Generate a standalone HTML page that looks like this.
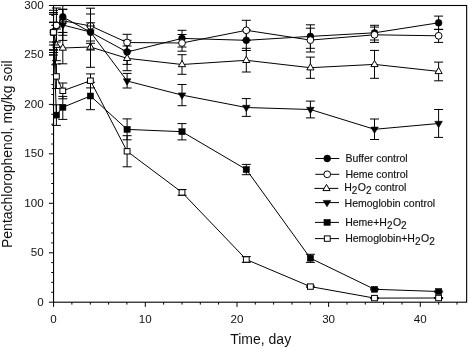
<!DOCTYPE html>
<html><head><meta charset="utf-8"><title>chart</title>
<style>
html,body{margin:0;padding:0;background:#fff;}
body{width:468px;height:348px;position:relative;overflow:hidden;font-family:"Liberation Sans",sans-serif;color:#111;}
svg{position:absolute;left:0;top:0;}
.t{position:absolute;white-space:nowrap;line-height:1;}
.lg{-webkit-text-stroke:0.15px #111;}
#txt{position:absolute;left:0;top:0;width:468px;height:348px;filter:grayscale(1);}
.yt{font-size:11.6px;right:424.3px;text-align:right;}
.xt{font-size:11.6px;width:40px;text-align:center;top:312.7px;}
.lg{font-size:10.5px;left:344.6px;}
.lg sub{font-size:10px;letter-spacing:0.45px;vertical-align:baseline;position:relative;top:3.2px;line-height:0;}
.ax{font-size:14.0px;}
</style></head><body>
<svg width="468" height="348" viewBox="0 0 468 348">
<rect x="53.55" y="5.5" width="413.1" height="296.7" fill="none" stroke="#000" stroke-width="1.1"/>
<path d="M48.9 302.2H53.55M51.3 292.3H53.55M51.3 282.4H53.55M51.3 272.5H53.55M51.3 262.6H53.55M48.9 252.8H53.55M51.3 242.9H53.55M51.3 233.0H53.55M51.3 223.1H53.55M51.3 213.2H53.55M48.9 203.3H53.55M51.3 193.4H53.55M51.3 183.5H53.55M51.3 173.6H53.55M51.3 163.7H53.55M48.9 153.8H53.55M51.3 144.0H53.55M51.3 134.1H53.55M51.3 124.2H53.55M51.3 114.3H53.55M48.9 104.4H53.55M51.3 94.5H53.55M51.3 84.6H53.55M51.3 74.7H53.55M51.3 64.8H53.55M48.9 54.9H53.55M51.3 45.1H53.55M51.3 35.2H53.55M51.3 25.3H53.55M51.3 15.4H53.55M48.9 5.5H53.55M53.6 302.2V306.9M71.9 302.2V304.6M90.3 302.2V304.6M108.6 302.2V304.6M126.9 302.2V304.6M145.3 302.2V306.9M163.6 302.2V304.6M182.0 302.2V304.6M200.3 302.2V304.6M218.6 302.2V304.6M237.0 302.2V306.9M255.3 302.2V304.6M273.6 302.2V304.6M292.0 302.2V304.6M310.3 302.2V304.6M328.6 302.2V306.9M347.0 302.2V304.6M365.3 302.2V304.6M383.6 302.2V304.6M402.0 302.2V304.6M420.3 302.2V306.9M438.7 302.2V304.6M457.0 302.2V304.6" fill="none" stroke="#000" stroke-width="1"/>
<circle cx="62.8" cy="20.8" r="3.4" fill="#fff" stroke="#000" stroke-width="1"/>
<polyline points="53.5,32.2 62.8,16.9 90.5,32.2 127.1,52.0 182.0,38.4 246.3,40.3 310.4,36.4 374.5,32.8 438.6,22.8" fill="none" stroke="#000" stroke-width="1.0"/>
<path d="M53.5 22.3V42.0M49.0 22.3H58.0M49.0 42.0H58.0M62.8 5.5V35.3M58.3 35.3H67.3M90.5 22.8V41.0M86.0 22.8H95.0M86.0 41.0H95.0M127.1 40.3V64.4M122.6 40.3H131.6M122.6 64.4H131.6M182.0 30.3V47.0M177.5 30.3H186.5M177.5 47.0H186.5M246.3 29.9V50.5M241.8 29.9H250.8M241.8 50.5H250.8M310.4 24.8V48.3M305.9 24.8H314.9M305.9 48.3H314.9M374.5 25.3V40.0M370.0 25.3H379.0M370.0 40.0H379.0M438.6 16.1V29.4M434.1 16.1H443.1M434.1 29.4H443.1" fill="none" stroke="#000" stroke-width="1.0"/>
<circle cx="53.5" cy="32.2" r="3.4" fill="#000" stroke="#000" stroke-width="0.6"/>
<circle cx="62.8" cy="16.9" r="3.4" fill="#000" stroke="#000" stroke-width="0.6"/>
<circle cx="90.5" cy="32.2" r="3.4" fill="#000" stroke="#000" stroke-width="0.6"/>
<circle cx="127.1" cy="52.0" r="3.4" fill="#000" stroke="#000" stroke-width="0.6"/>
<circle cx="182.0" cy="38.4" r="3.4" fill="#000" stroke="#000" stroke-width="0.6"/>
<circle cx="246.3" cy="40.3" r="3.4" fill="#000" stroke="#000" stroke-width="0.6"/>
<circle cx="310.4" cy="36.4" r="3.4" fill="#000" stroke="#000" stroke-width="0.6"/>
<circle cx="374.5" cy="32.8" r="3.4" fill="#000" stroke="#000" stroke-width="0.6"/>
<circle cx="438.6" cy="22.8" r="3.4" fill="#000" stroke="#000" stroke-width="0.6"/>
<polyline points="53.5,32.2 56.4,25.3 62.8,20.8 90.5,25.9 127.1,42.5 182.0,43.0 246.3,30.3 310.4,40.1 374.5,34.8 438.6,35.8" fill="none" stroke="#000" stroke-width="1.0"/>
<path d="M53.5 10.3V52.5M49.0 10.3H58.0M49.0 52.5H58.0M56.4 8.0V42.0M51.9 8.0H60.9M51.9 42.0H60.9M62.8 9.3V32.4M58.3 9.3H67.3M58.3 32.4H67.3M90.5 8.2V43.3M86.0 8.2H95.0M86.0 43.3H95.0M127.1 34.3V50.7M122.6 34.3H131.6M122.6 50.7H131.6M182.0 34.5V51.2M177.5 34.5H186.5M177.5 51.2H186.5M246.3 20.3V40.3M241.8 20.3H250.8M241.8 40.3H250.8M310.4 28.2V52.0M305.9 28.2H314.9M305.9 52.0H314.9M374.5 27.1V42.4M370.0 27.1H379.0M370.0 42.4H379.0M438.6 29.4V42.4M434.1 29.4H443.1M434.1 42.4H443.1" fill="none" stroke="#000" stroke-width="1.0"/>
<circle cx="53.5" cy="32.2" r="3.4" fill="#fff" stroke="#000" stroke-width="1"/>
<circle cx="56.4" cy="25.3" r="3.4" fill="#fff" stroke="#000" stroke-width="1"/>
<circle cx="90.5" cy="25.9" r="3.4" fill="#fff" stroke="#000" stroke-width="1"/>
<circle cx="127.1" cy="42.5" r="3.4" fill="#fff" stroke="#000" stroke-width="1"/>
<circle cx="182.0" cy="43.0" r="3.4" fill="#fff" stroke="#000" stroke-width="1"/>
<circle cx="246.3" cy="30.3" r="3.4" fill="#fff" stroke="#000" stroke-width="1"/>
<circle cx="310.4" cy="40.1" r="3.4" fill="#fff" stroke="#000" stroke-width="1"/>
<circle cx="374.5" cy="34.8" r="3.4" fill="#fff" stroke="#000" stroke-width="1"/>
<circle cx="438.6" cy="35.8" r="3.4" fill="#fff" stroke="#000" stroke-width="1"/>
<polyline points="53.5,32.2 56.4,45.2 62.8,48.0 90.5,47.0 127.1,58.3 182.0,64.5 246.3,60.3 310.4,67.7 374.5,64.4 438.6,71.4" fill="none" stroke="#000" stroke-width="1.0"/>
<path d="M53.5 12.7V50.3M49.0 12.7H58.0M49.0 50.3H58.0M56.4 29.0V60.7M51.9 29.0H60.9M51.9 60.7H60.9M62.8 32.5V63.8M58.3 32.5H67.3M58.3 63.8H67.3M90.5 26.0V67.3M86.0 26.0H95.0M86.0 67.3H95.0M127.1 46.0V70.7M122.6 46.0H131.6M122.6 70.7H131.6M182.0 54.7V74.3M177.5 54.7H186.5M177.5 74.3H186.5M246.3 48.3V72.0M241.8 48.3H250.8M241.8 72.0H250.8M310.4 57.1V78.3M305.9 57.1H314.9M305.9 78.3H314.9M374.5 50.4V78.3M370.0 50.4H379.0M370.0 78.3H379.0M438.6 62.1V80.8M434.1 62.1H443.1M434.1 80.8H443.1" fill="none" stroke="#000" stroke-width="1.0"/>
<path d="M53.5 28.2 L57.1 34.4 L49.9 34.4 Z" fill="#fff" stroke="#000" stroke-width="1"/>
<path d="M56.4 41.2 L60.0 47.4 L52.8 47.4 Z" fill="#fff" stroke="#000" stroke-width="1"/>
<path d="M62.8 44.0 L66.4 50.2 L59.2 50.2 Z" fill="#fff" stroke="#000" stroke-width="1"/>
<path d="M90.5 43.0 L94.0 49.2 L86.9 49.2 Z" fill="#fff" stroke="#000" stroke-width="1"/>
<path d="M127.1 54.3 L130.7 60.5 L123.5 60.5 Z" fill="#fff" stroke="#000" stroke-width="1"/>
<path d="M182.0 60.5 L185.6 66.7 L178.4 66.7 Z" fill="#fff" stroke="#000" stroke-width="1"/>
<path d="M246.3 56.3 L249.9 62.5 L242.7 62.5 Z" fill="#fff" stroke="#000" stroke-width="1"/>
<path d="M310.4 63.7 L314.0 69.9 L306.8 69.9 Z" fill="#fff" stroke="#000" stroke-width="1"/>
<path d="M374.5 60.4 L378.1 66.6 L370.9 66.6 Z" fill="#fff" stroke="#000" stroke-width="1"/>
<path d="M438.6 67.4 L442.2 73.6 L435.0 73.6 Z" fill="#fff" stroke="#000" stroke-width="1"/>
<polyline points="53.5,32.2 62.8,25.0 90.5,32.0 127.1,81.0 182.0,95.1 246.3,107.5 310.4,109.5 374.5,129.3 438.6,123.5" fill="none" stroke="#000" stroke-width="1.0"/>
<path d="M53.5 12.7V49.7M49.0 12.7H58.0M49.0 49.7H58.0M62.8 9.3V40.4M58.3 9.3H67.3M58.3 40.4H67.3M90.5 14.0V50.0M86.0 14.0H95.0M86.0 50.0H95.0M127.1 73.4V88.0M122.6 73.4H131.6M122.6 88.0H131.6M182.0 84.5V105.7M177.5 84.5H186.5M177.5 105.7H186.5M246.3 98.6V116.4M241.8 98.6H250.8M241.8 116.4H250.8M310.4 101.1V117.9M305.9 101.1H314.9M305.9 117.9H314.9M374.5 119.0V139.5M370.0 119.0H379.0M370.0 139.5H379.0M438.6 109.5V137.4M434.1 109.5H443.1M434.1 137.4H443.1" fill="none" stroke="#000" stroke-width="1.0"/>
<path d="M53.5 36.4 L57.3 30.0 L49.8 30.0 Z" fill="#000" stroke="#000" stroke-width="0.6"/>
<path d="M62.8 29.2 L66.6 22.8 L59.0 22.8 Z" fill="#000" stroke="#000" stroke-width="0.6"/>
<path d="M90.5 36.2 L94.2 29.8 L86.7 29.8 Z" fill="#000" stroke="#000" stroke-width="0.6"/>
<path d="M127.1 85.2 L130.9 78.8 L123.3 78.8 Z" fill="#000" stroke="#000" stroke-width="0.6"/>
<path d="M182.0 99.3 L185.8 92.9 L178.2 92.9 Z" fill="#000" stroke="#000" stroke-width="0.6"/>
<path d="M246.3 111.7 L250.1 105.3 L242.5 105.3 Z" fill="#000" stroke="#000" stroke-width="0.6"/>
<path d="M310.4 113.7 L314.2 107.3 L306.6 107.3 Z" fill="#000" stroke="#000" stroke-width="0.6"/>
<path d="M374.5 133.5 L378.3 127.1 L370.7 127.1 Z" fill="#000" stroke="#000" stroke-width="0.6"/>
<path d="M438.6 127.7 L442.4 121.3 L434.8 121.3 Z" fill="#000" stroke="#000" stroke-width="0.6"/>
<polyline points="53.5,32.2 56.4,115.1 62.8,107.3 90.5,96.0 127.1,129.4 182.0,131.7 246.3,169.5 310.4,258.2 374.5,289.3 438.6,291.5" fill="none" stroke="#000" stroke-width="1.0"/>
<path d="M53.5 14.4V55.0M49.0 14.4H58.0M49.0 55.0H58.0M56.4 104.8V125.4M51.9 104.8H60.9M51.9 125.4H60.9M62.8 96.4V119.4M58.3 96.4H67.3M58.3 119.4H67.3M90.5 82.3V109.7M86.0 82.3H95.0M86.0 109.7H95.0M127.1 118.9V139.8M122.6 118.9H131.6M122.6 139.8H131.6M182.0 123.6V139.9M177.5 123.6H186.5M177.5 139.9H186.5M246.3 164.4V174.7M241.8 164.4H250.8M241.8 174.7H250.8M310.4 254.3V262.4M305.9 254.3H314.9M305.9 262.4H314.9M374.5 288.8V289.9M370.0 288.8H379.0M370.0 289.9H379.0M438.6 291.0V292.1M434.1 291.0H443.1M434.1 292.1H443.1" fill="none" stroke="#000" stroke-width="1.0"/>
<rect x="50.40" y="29.2" width="6.3" height="6.0" fill="#000" stroke="#000" stroke-width="0.5"/>
<rect x="53.25" y="112.1" width="6.3" height="6.0" fill="#000" stroke="#000" stroke-width="0.5"/>
<rect x="59.65" y="104.3" width="6.3" height="6.0" fill="#000" stroke="#000" stroke-width="0.5"/>
<rect x="87.30" y="93.0" width="6.3" height="6.0" fill="#000" stroke="#000" stroke-width="0.5"/>
<rect x="123.95" y="126.4" width="6.3" height="6.0" fill="#000" stroke="#000" stroke-width="0.5"/>
<rect x="178.85" y="128.7" width="6.3" height="6.0" fill="#000" stroke="#000" stroke-width="0.5"/>
<rect x="243.15" y="166.5" width="6.3" height="6.0" fill="#000" stroke="#000" stroke-width="0.5"/>
<rect x="307.25" y="255.2" width="6.3" height="6.0" fill="#000" stroke="#000" stroke-width="0.5"/>
<rect x="371.35" y="286.3" width="6.3" height="6.0" fill="#000" stroke="#000" stroke-width="0.5"/>
<rect x="435.45" y="288.5" width="6.3" height="6.0" fill="#000" stroke="#000" stroke-width="0.5"/>
<polyline points="53.5,32.3 56.4,76.4 62.8,90.8 90.5,80.7 127.1,151.3 182.0,192.4 246.3,259.5 310.4,286.6 374.5,298.1 438.6,298.0" fill="none" stroke="#000" stroke-width="1.0"/>
<path d="M53.5 22.3V45.0M49.0 22.3H58.0M49.0 45.0H58.0M56.4 64.0V88.5M51.9 64.0H60.9M51.9 88.5H60.9M62.8 83.0V98.8M58.3 83.0H67.3M58.3 98.8H67.3M90.5 73.9V87.9M86.0 73.9H95.0M86.0 87.9H95.0M127.1 135.7V166.8M122.6 135.7H131.6M122.6 166.8H131.6M182.0 189.5V195.3M177.5 189.5H186.5M177.5 195.3H186.5M246.3 256.6V262.4M241.8 256.6H250.8M241.8 262.4H250.8M310.4 286.0V287.2M305.9 286.0H314.9M305.9 287.2H314.9M374.5 297.6V298.7M370.0 297.6H379.0M370.0 298.7H379.0M438.6 297.5V298.6M434.1 297.5H443.1M434.1 298.6H443.1" fill="none" stroke="#000" stroke-width="1.0"/>
<rect x="50.6" y="29.6" width="5.8" height="5.4" fill="#fff" stroke="#000" stroke-width="1"/>
<rect x="53.5" y="73.7" width="5.8" height="5.4" fill="#fff" stroke="#000" stroke-width="1"/>
<rect x="59.9" y="88.1" width="5.8" height="5.4" fill="#fff" stroke="#000" stroke-width="1"/>
<rect x="87.5" y="78.0" width="5.8" height="5.4" fill="#fff" stroke="#000" stroke-width="1"/>
<rect x="124.2" y="148.6" width="5.8" height="5.4" fill="#fff" stroke="#000" stroke-width="1"/>
<rect x="179.1" y="189.7" width="5.8" height="5.4" fill="#fff" stroke="#000" stroke-width="1"/>
<rect x="243.4" y="256.8" width="5.8" height="5.4" fill="#fff" stroke="#000" stroke-width="1"/>
<rect x="307.5" y="283.9" width="5.8" height="5.4" fill="#fff" stroke="#000" stroke-width="1"/>
<rect x="371.6" y="295.4" width="5.8" height="5.4" fill="#fff" stroke="#000" stroke-width="1"/>
<rect x="435.7" y="295.3" width="5.8" height="5.4" fill="#fff" stroke="#000" stroke-width="1"/>
<path d="M315.3 158.5H339.3" stroke="#000" stroke-width="1" fill="none"/>
<circle cx="327.2" cy="158.5" r="3.4" fill="#000" stroke="#000" stroke-width="0.6"/>
<path d="M315.3 174.3H339.3" stroke="#000" stroke-width="1" fill="none"/>
<circle cx="327.2" cy="174.3" r="3.4" fill="#fff" stroke="#000" stroke-width="1"/>
<path d="M314.4 188.4H338.3" stroke="#000" stroke-width="1" fill="none"/>
<path d="M326.5 184.4 L330.1 190.6 L322.9 190.6 Z" fill="#fff" stroke="#000" stroke-width="1"/>
<path d="M315.0 202.6H339.0" stroke="#000" stroke-width="1" fill="none"/>
<path d="M327.0 206.8 L330.8 200.4 L323.2 200.4 Z" fill="#000" stroke="#000" stroke-width="0.6"/>
<path d="M315.0 222.4H339.0" stroke="#000" stroke-width="1" fill="none"/>
<rect x="323.95" y="219.4" width="6.3" height="6.0" fill="#000" stroke="#000" stroke-width="0.5"/>
<path d="M315.0 238.6H339.0" stroke="#000" stroke-width="1" fill="none"/>
<rect x="324.4" y="235.9" width="5.8" height="5.4" fill="#fff" stroke="#000" stroke-width="1"/>
</svg>
<div id="txt">
<div class="t yt" style="top:295.7px">0</div>
<div class="t yt" style="top:246.2px">50</div>
<div class="t yt" style="top:196.8px">100</div>
<div class="t yt" style="top:147.3px">150</div>
<div class="t yt" style="top:97.9px">200</div>
<div class="t yt" style="top:48.4px">250</div>
<div class="t yt" style="top:-1.0px">300</div>
<div class="t xt" style="left:33.6px">0</div>
<div class="t xt" style="left:125.3px">10</div>
<div class="t xt" style="left:217.0px">20</div>
<div class="t xt" style="left:308.6px">30</div>
<div class="t xt" style="left:400.3px">40</div>
<div class="t lg" style="left:345.4px;top:153.4px">Buffer control</div>
<div class="t lg" style="left:345.4px;top:169.0px">Heme control</div>
<div class="t lg" style="left:344.2px;top:182.2px">H<sub>2</sub>O<sub>2</sub> control</div>
<div class="t lg" style="left:344.6px;top:197.8px">Hemoglobin control</div>
<div class="t lg" style="left:345.2px;top:216.5px">Heme+H<sub>2</sub>O<sub>2</sub></div>
<div class="t lg" style="left:345.2px;top:232.5px">Hemoglobin+H<sub>2</sub>O<sub>2</sub></div>
<div class="t ax" style="left:230.2px;top:332.3px">Time, day</div>
<div class="t ax" id="yl" style="left:0;top:0;transform-origin:0 0;transform:translate(-0.5px,248.0px) rotate(-90deg);">Pentachlorophenol, mg/kg soil</div>
</div>
</body></html>
